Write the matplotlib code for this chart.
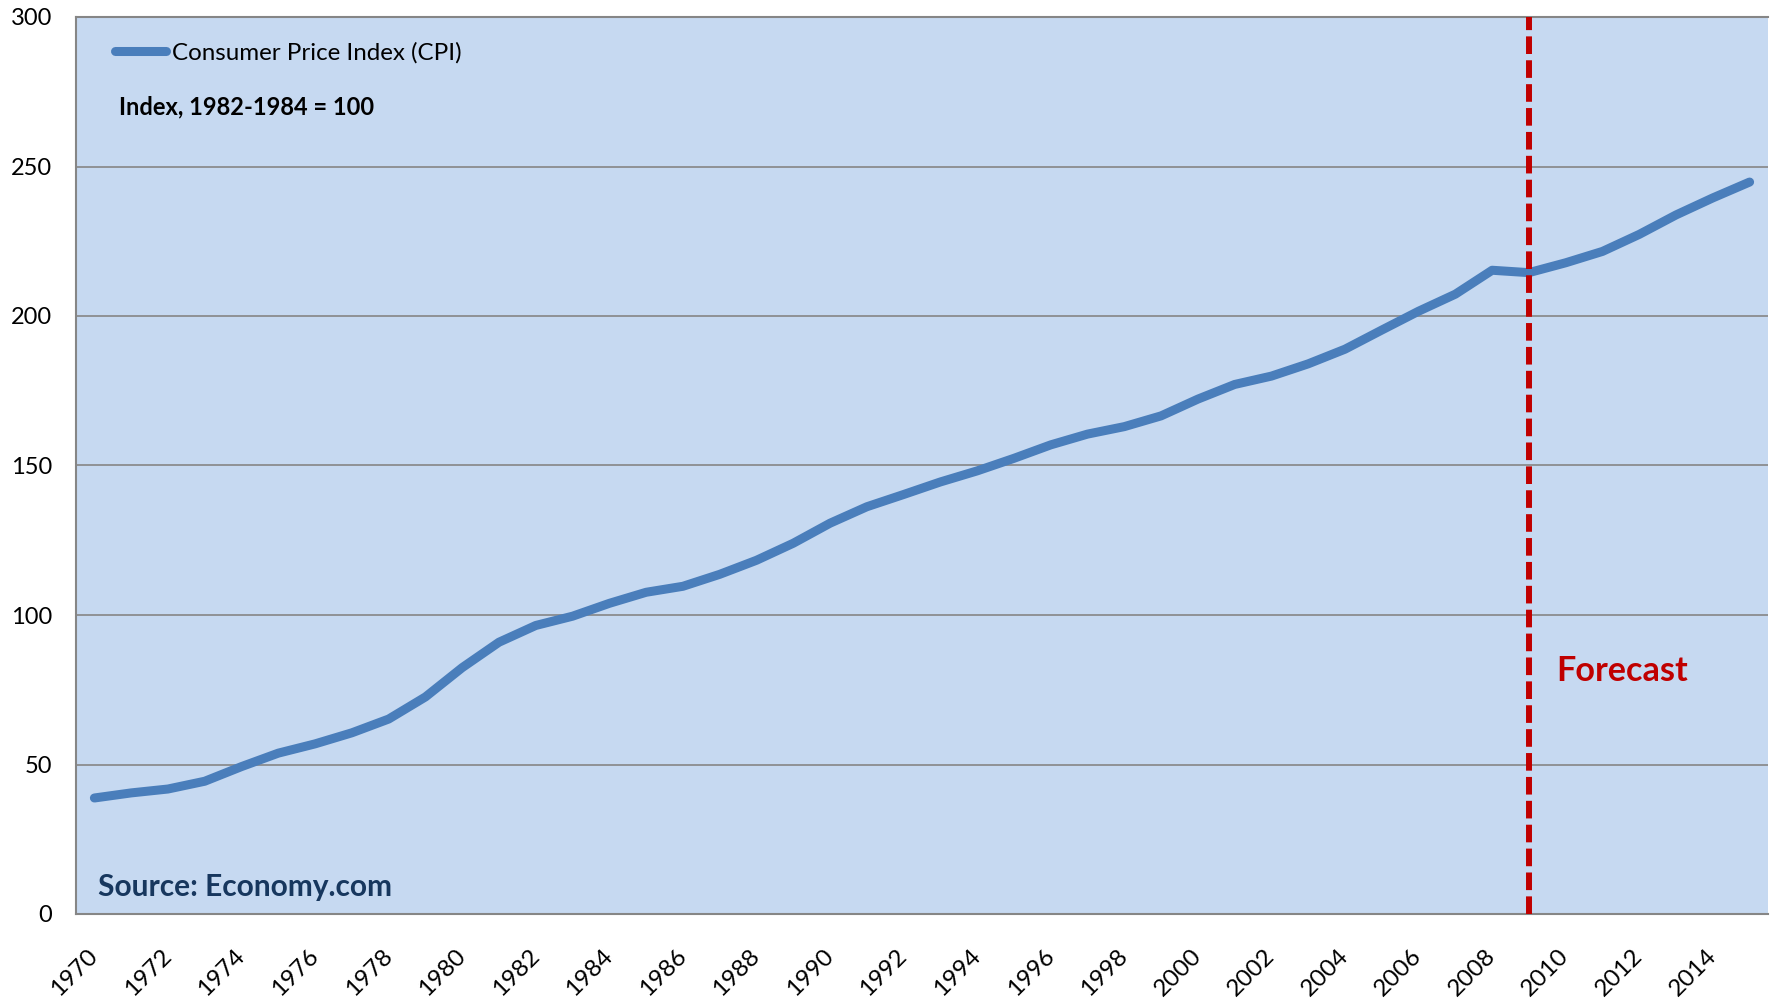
import matplotlib.pyplot as plt

plt.rcParams['font.family'] = ['Lato', 'DejaVu Sans']

# annual CPI, 1982-1984 = 100 (2010 onwards is the forecast)
years = list(range(1970, 2016))
cpi = [38.8, 40.5, 41.8, 44.4, 49.3, 53.8, 56.9, 60.6, 65.2, 72.6,
       82.4, 90.9, 96.5, 99.6, 103.9, 107.6, 109.6, 113.6, 118.3, 124.0,
       130.7, 136.2, 140.3, 144.5, 148.2, 152.4, 156.9, 160.5, 163.0, 166.6,
       172.2, 177.1, 179.9, 184.0, 188.9, 195.3, 201.6, 207.3, 215.3, 214.5,
       217.8, 221.6, 227.3, 233.8, 239.5, 244.8]
forecast_year = 2009
y_ticks = [0, 50, 100, 150, 200, 250, 300]
x_tick_years = years[::2]

W, H = 1773, 1000
fig = plt.figure(figsize=(W / 100, H / 100), dpi=100)
ax = fig.add_axes([76 / W, 1 - 914 / H, (1768 - 76) / W, (914 - 17) / H])
ax.set_facecolor('#C6D9F1')

ax.plot(years, cpi, color='#4A7EBB', lw=6.5, solid_capstyle='round',
        solid_joinstyle='round', label='Consumer Price Index (CPI)', zorder=3)
ax.axvline(forecast_year, color='#C00000', lw=4.3, dashes=(2.95, 1.05), zorder=4)

ax.set_xlim(years[0] - 0.5, years[-1] + 0.5)
ax.set_ylim(0, 300)
ax.set_yticks(y_ticks)
ax.set_xticks(x_tick_years)
ax.set_xticklabels([str(y) for y in x_tick_years], rotation=45, ha='right',
                   va='center', rotation_mode='anchor')
ax.tick_params(axis='y', length=0, pad=17, labelsize=17)
ax.tick_params(axis='x', length=0, pad=28, labelsize=17.5)
ax.yaxis.grid(True, color='#868686', lw=1.2)
ax.set_axisbelow(True)
for s in ['left', 'bottom', 'top']:
    ax.spines[s].set_color('#868686')
    ax.spines[s].set_linewidth(1.5)
ax.spines['right'].set_visible(False)

leg = ax.legend(loc='center left', bbox_to_anchor=(39 / 1692, 861 / 897),
                frameon=False, borderaxespad=0, borderpad=0,
                handlelength=2.1, handletextpad=0.25, fontsize=17.4)

fig.text(119 / W, 1 - 107 / H, 'Index, 1982-1984 = 100', fontsize=17,
         fontweight='bold', va='center')
fig.text(98 / W, 1 - 896 / H, 'Source: Economy.com', fontsize=21.5,
         fontweight='bold', color='#17375E', va='baseline')
fig.text(1556 / W, 1 - 681 / H, 'Forecast', fontsize=24.6,
         fontweight='bold', color='#C00000', va='baseline')

fig.savefig('out.png', dpi=100)
